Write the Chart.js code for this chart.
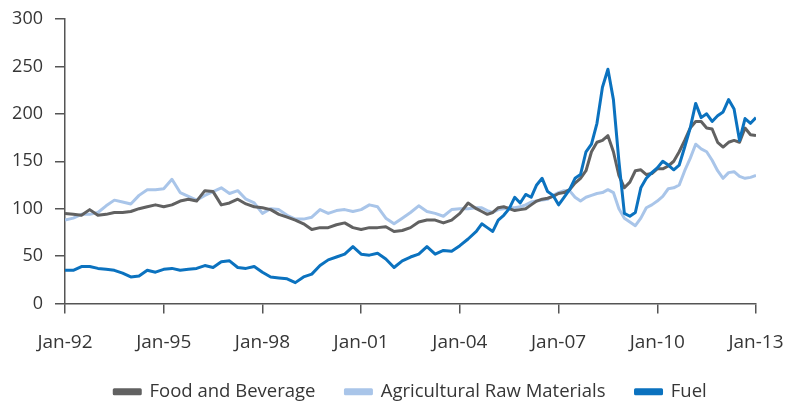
<!DOCTYPE html>
<html>
<head>
<meta charset="utf-8">
<script src="https://cdn.jsdelivr.net/npm/chart.js@4"></script>
<style>
  html, body { margin: 0; padding: 0; background: #fff; }
  #wrap { width: 787px; height: 402px; }
</style>
</head>
<body>
<div id="wrap"><canvas id="commodityChart"></canvas></div>
<script>
// months since Jan-92 (quarterly to 2004, then every 2 months)
const months = [
  0, 3, 6, 9, 12, 15, 18, 21, 24, 27, 30, 33, 36, 39, 42, 45, 48, 51, 54, 57,
  60, 63, 66, 69, 72, 75, 78, 81, 84, 87, 90, 93, 96, 99, 102, 105, 108, 111, 114, 117,
  120, 123, 126, 129, 132, 135, 138, 141, 144, 147, 150,
  152, 154, 156, 158, 160, 162, 164, 166, 168, 170, 172, 174, 176, 178, 180,
  182, 184, 186, 188, 190, 192, 194, 196, 198, 200, 202, 204, 206, 208, 210,
  212, 214, 216, 218, 220, 222, 224, 226, 228, 230, 232, 234, 236, 238, 240,
  242, 244, 246, 248, 250, 252
];

const foodBeverage = [
  95, 94, 93, 99, 93, 94, 96, 96, 97, 100, 102, 104, 102, 104, 108, 110, 108, 119, 118, 104,
  106, 110, 105, 102, 101, 99, 94, 91, 88, 84, 78, 80, 80, 83, 85, 80, 78, 80, 80, 81,
  76, 77, 80, 86, 88, 88, 85, 88, 95, 106, 100,
  97, 94, 96, 101, 102, 100, 98, 99, 100, 104, 108, 110, 111, 113, 116,
  117, 120, 127, 132, 140, 160, 170, 172, 177, 160, 135, 122, 128, 140, 141,
  136, 137, 142, 142, 145, 150, 160, 172, 185, 192, 192, 185, 184, 170, 165,
  170, 172, 170, 185, 178, 177
];

const agriRawMaterials = [
  88, 90, 94, 94, 96, 103, 109, 107, 105, 114, 120, 120, 121, 131, 117, 113, 109, 114, 118, 122,
  116, 119, 110, 106, 95, 100, 99, 93, 89, 89, 91, 99, 95, 98, 99, 97, 99, 104, 102, 90,
  84, 90, 96, 103, 97, 95, 92, 99, 100, 100, 101,
  101, 98, 96, 99, 100, 101, 101, 102, 104, 107, 108, 109, 110, 114, 117,
  119, 119, 112, 108, 112, 114, 116, 117, 120, 117, 100, 90, 86, 82, 90,
  101, 104, 108, 113, 121, 122, 125, 140, 153, 168, 163, 160, 151, 140, 132,
  138, 139, 134, 132, 133, 135
];

const fuel = [
  35, 35, 39, 39, 37, 36, 35, 32, 28, 29, 35, 33, 36, 37, 35, 36, 37, 40, 38, 44,
  45, 38, 37, 39, 33, 28, 27, 26, 22, 28, 31, 40, 46, 49, 52, 60, 52, 51, 53, 47,
  38, 45, 49, 52, 60, 52, 56, 55, 61, 68, 76,
  84, 80, 76, 88, 93, 100, 112, 106, 115, 112, 125, 132, 118, 114, 104,
  112, 120, 132, 136, 160, 168, 190, 228, 247, 215, 150, 95, 92, 96, 122,
  132, 138, 143, 150, 146, 141, 146, 165, 185, 211, 196, 200, 192, 198, 202,
  215, 205, 172, 195, 190, 196
];

const tickLabels = ['Jan-92', 'Jan-95', 'Jan-98', 'Jan-01', 'Jan-04', 'Jan-07', 'Jan-10', 'Jan-13'];

const toPoints = vals => vals.map((v, i) => ({ x: months[i], y: v }));

const axisColor = '#555555';
const textColor = '#363636';
const fontFamily = '"Open Sans", "Noto Sans", sans-serif';

// centre the legend under the plot area rather than the whole canvas
const legendUnderPlot = {
  id: 'legendUnderPlot',
  afterLayout(chart) {
    const lg = chart.legend;
    if (!lg) return;
    lg.left = chart.chartArea.left;
    lg.right = chart.chartArea.right;
  }
};

new Chart(document.getElementById('commodityChart'), {
  type: 'line',
  data: {
    datasets: [
      {
        label: 'Food and Beverage',
        data: toPoints(foodBeverage),
        borderColor: '#616161',
        backgroundColor: '#616161',
        borderWidth: 3,
        order: 2
      },
      {
        label: 'Agricultural Raw Materials',
        data: toPoints(agriRawMaterials),
        borderColor: '#a9c5e9',
        backgroundColor: '#a9c5e9',
        borderWidth: 3,
        order: 3
      },
      {
        label: 'Fuel',
        data: toPoints(fuel),
        borderColor: '#0b72bf',
        backgroundColor: '#0b72bf',
        borderWidth: 3,
        order: 1
      }
    ]
  },
  plugins: [legendUnderPlot],
  options: {
    responsive: true,
    maintainAspectRatio: false,
    animation: false,
    elements: {
      point: { radius: 0 },
      line: { tension: 0, borderJoinStyle: 'round' }
    },
    layout: { padding: { top: 19, right: 31, left: 0, bottom: -9 } },
    plugins: {
      tooltip: { enabled: false },
      legend: {
        position: 'bottom',
        labels: {
          boxWidth: 26,
          boxHeight: 4,
          padding: 30,
          color: textColor,
          font: { family: fontFamily, size: 18.5 },
          sort: (a, b) => a.datasetIndex - b.datasetIndex
        }
      }
    },
    scales: {
      x: {
        type: 'linear',
        min: 0,
        max: 252,
        afterFit: scale => {
          scale.height = 49;
          scale.paddingLeft = 0;
          scale.paddingRight = 0;
        },
        border: { display: true, color: axisColor, width: 1.5 },
        grid: { drawOnChartArea: false, drawTicks: true, tickLength: 10, color: axisColor, lineWidth: 1.5 },
        ticks: {
          stepSize: 36,
          padding: 20,
          maxRotation: 0,
          color: textColor,
          font: { family: fontFamily, size: 19, lineHeight: 1 },
          callback: value => tickLabels[value / 36]
        }
      },
      y: {
        min: 0,
        max: 300,
        afterFit: scale => {
          scale.width = 65;
          scale.paddingTop = 0;
          scale.paddingBottom = 0;
        },
        border: { display: true, color: axisColor, width: 1.5 },
        grid: { drawOnChartArea: false, drawTicks: true, tickLength: 10, color: axisColor, lineWidth: 1.5 },
        ticks: {
          stepSize: 50,
          padding: 12,
          color: textColor,
          font: { family: fontFamily, size: 18 }
        }
      }
    }
  }
});
</script>
</body>
</html>
